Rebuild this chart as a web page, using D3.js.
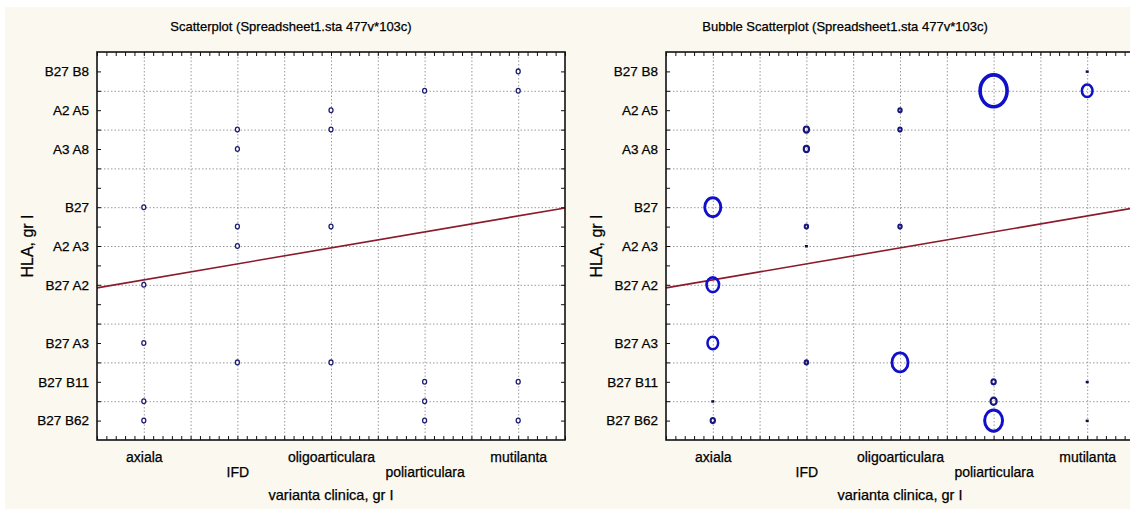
<!DOCTYPE html>
<html>
<head>
<meta charset="utf-8">
<script src="https://cdn.jsdelivr.net/npm/d3@7"></script>
<style>
  body { margin: 0; background: #fff; }
  svg text { font-family: "Liberation Sans", Arial, sans-serif; fill: #000; stroke: #000; stroke-width: 0.25px; }
  .grid line { stroke: #9a9a9a; stroke-dasharray: 1.5,2; }
  .grid path, .ticks path, .lab path { display: none; }
  .ticks line { stroke: #111; }
</style>
</head>
<body>
<div id="chart"></div>
<script>
"use strict";

// categories on x, HLA codes on y
var categories = ["axiala", "IFD", "oligoarticulara", "poliarticulara", "mutilanta"];
var hlaLabels = ["B27 B62", "B27 B11", "B27 A3", "B27 A2", "A2 A3", "B27", "A3 A8", "A2 A5", "B27 B8"];
var hlaCodes = [1, 3, 5, 8, 10, 12, 15, 17, 19];

// observed points (category index 1..5, hla code) and bubble size
var pointCat  = [1, 1, 1, 1, 1,   2, 2, 2, 2, 2,   3, 3, 3, 3,   4, 4, 4, 4,   5, 5, 5, 5];
var pointHla  = [12, 8, 5, 2, 1,  16, 15, 11, 10, 4,  17, 16, 11, 4,  18, 3, 2, 1,  19, 18, 3, 1];
var bubbleSize = [8, 6, 5, 0, 1.5, 2, 2, 1, 0, 1,  1, 1, 1, 8,  14, 1.5, 2.5, 9,  0, 5, 0, 0];

// fitted line HLA = a + b * varianta
var regIntercept = 7.43;
var regSlope = 0.824;

var W = 1130, H = 509;
var svg = d3.select("#chart").append("svg")
    .attr("width", W)
    .attr("height", H);

svg.append("rect").attr("width", W).attr("height", H).attr("fill", "#fff");
svg.append("rect").attr("x", 5).attr("y", 7).attr("width", W - 5).attr("height", H - 7).attr("fill", "#fbf9ef");

var points = pointCat.map(function(c, i) {
    return { cat: c, hla: pointHla[i], size: bubbleSize[i] };
});

function panel(left, titleText, titleX, bubbles) {
    var top = 52, bottom = 440, width = 468;
    var x = d3.scaleLinear().domain([0.5, 5.5]).range([left, left + width]);
    var y = d3.scaleLinear().domain([0, 20]).range([bottom, top]);
    var g = svg.append("g");

    g.append("rect")
        .attr("x", left).attr("y", top)
        .attr("width", width).attr("height", bottom - top)
        .attr("fill", "#fff");

    // dotted grid
    g.append("g").attr("class", "grid")
        .attr("transform", "translate(" + left + ",0)")
        .call(d3.axisLeft(y).tickValues(d3.range(2, 19, 2)).tickSize(-width).tickFormat(""));
    g.append("g").attr("class", "grid")
        .attr("transform", "translate(0," + bottom + ")")
        .call(d3.axisBottom(x).tickValues(d3.range(1, 5.01, 0.5)).tickSize(-(bottom - top)).tickFormat(""));

    // inward tick marks on all four sides
    var minorX = d3.range(5, 56).map(function(v) { return v / 10; });
    g.append("g").attr("class", "ticks")
        .attr("transform", "translate(0," + top + ")")
        .call(d3.axisBottom(x).tickValues(minorX).tickSize(4).tickFormat(""));
    g.append("g").attr("class", "ticks")
        .attr("transform", "translate(0," + bottom + ")")
        .call(d3.axisTop(x).tickValues(minorX).tickSize(4).tickFormat(""));
    g.append("g").attr("class", "ticks")
        .attr("transform", "translate(" + left + ",0)")
        .call(d3.axisRight(y).tickValues(d3.range(1, 20)).tickSize(4).tickFormat(""));
    g.append("g").attr("class", "ticks")
        .attr("transform", "translate(" + (left + width) + ",0)")
        .call(d3.axisLeft(y).tickValues(d3.range(1, 20)).tickSize(4).tickFormat(""));

    // regression line
    g.append("line")
        .attr("x1", x(0.5)).attr("y1", y(regIntercept + regSlope * 0.5))
        .attr("x2", x(5.5)).attr("y2", y(regIntercept + regSlope * 5.5))
        .attr("stroke", "#8a1a2c").attr("stroke-width", 1.6);

    if (bubbles) {
        var r = d3.scaleLinear().domain([0, 14]).range([0.8, 13.5]);
        var sw = d3.scaleLinear().domain([0, 14]).range([1.9, 3.6]);
        g.selectAll(".bub")
            .data(points.filter(function(d) { return d.size > 0; }))
            .enter().append("ellipse")
            .attr("cx", function(d) { return x(d.cat); })
            .attr("cy", function(d) { return y(d.hla); })
            .attr("rx", function(d) { return r(d.size); })
            .attr("ry", function(d) { return r(d.size) * 1.18; })
            .attr("fill", "none")
            .attr("stroke", function(d) { return d.size < 3 ? "#16167e" : "#1010c8"; })
            .attr("stroke-width", function(d) { return sw(d.size); });
        g.selectAll(".dot")
            .data(points.filter(function(d) { return d.size === 0; }))
            .enter().append("rect")
            .attr("x", function(d) { return x(d.cat) - 1.5; })
            .attr("y", function(d) { return y(d.hla) - 1; })
            .attr("width", 3).attr("height", 2.5)
            .attr("fill", "#101040");
    } else {
        g.selectAll(".pt")
            .data(points)
            .enter().append("ellipse")
            .attr("cx", function(d) { return x(d.cat); })
            .attr("cy", function(d) { return y(d.hla); })
            .attr("rx", 2).attr("ry", 2.4)
            .attr("fill", "#fff")
            .attr("stroke", "#1e1e70")
            .attr("stroke-width", 1.3);
    }

    // frame
    g.append("rect")
        .attr("x", left).attr("y", top)
        .attr("width", width).attr("height", bottom - top)
        .attr("fill", "none").attr("stroke", "#111").attr("stroke-width", 1.6);

    // labels
    var yl = g.append("g").attr("class", "lab")
        .attr("transform", "translate(" + left + ",0)")
        .call(d3.axisLeft(y).tickValues(hlaCodes).tickSize(0).tickPadding(8)
            .tickFormat(function(d) { return hlaLabels[hlaCodes.indexOf(d)]; }));
    yl.selectAll("text").style("font-size", "13.5px").attr("fill", "#000");

    var xl = g.append("g").attr("class", "lab")
        .attr("transform", "translate(0," + bottom + ")")
        .call(d3.axisBottom(x).tickValues([1, 2, 3, 4, 5]).tickSize(0)
            .tickFormat(function(d) { return categories[d - 1]; }));
    xl.selectAll("text")
        .style("font-size", "14px").attr("fill", "#000")
        .attr("y", function(d, i) { return i % 2 ? 27 : 12; });

    g.append("text")
        .attr("x", left + width / 2).attr("y", 500)
        .attr("text-anchor", "middle")
        .style("font-size", "14.5px")
        .text("varianta clinica, gr I");

    g.append("text")
        .attr("transform", "translate(" + (left - 70) + "," + ((top + bottom) / 2) + ") rotate(-90)")
        .attr("text-anchor", "middle")
        .attr("dy", "0.35em")
        .style("font-size", "16px")
        .text("HLA, gr I");

    g.append("text")
        .attr("x", titleX).attr("y", 31)
        .attr("text-anchor", "middle")
        .style("font-size", "13px")
        .text(titleText);
}

panel(97, "Scatterplot (Spreadsheet1.sta 477v*103c)", 291, false);
panel(666, "Bubble Scatterplot (Spreadsheet1.sta 477v*103c)", 845, true);
</script>
</body>
</html>
